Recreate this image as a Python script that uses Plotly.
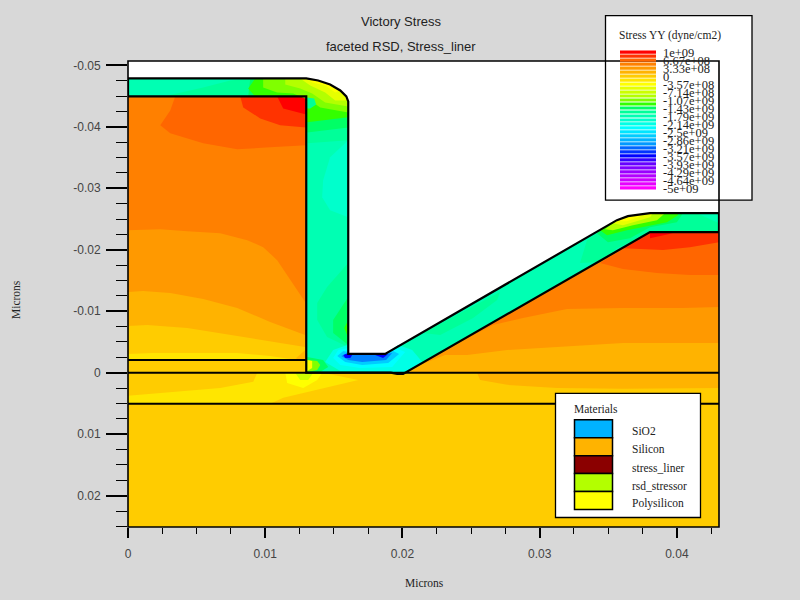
import plotly.graph_objects as go

# ---------- axes ----------
x_major = [0, 0.01, 0.02, 0.03, 0.04]
x_major_text = ["0", "0.01", "0.02", "0.03", "0.04"]
y_major = [-0.05, -0.04, -0.03, -0.02, -0.01, 0, 0.01, 0.02]
y_major_text = ["-0.05", "-0.04", "-0.03", "-0.02", "-0.01", "0", "0.01", "0.02"]
x_minor = [0.0025, 0.005, 0.0075, 0.0125, 0.015, 0.0175, 0.0225, 0.025, 0.0275,
           0.0325, 0.035, 0.0375, 0.0425]
y_minor = [-0.0475, -0.045, -0.0425, -0.0375, -0.035, -0.0325, -0.0275, -0.025, -0.0225,
           -0.0175, -0.015, -0.0125, -0.0075, -0.005, -0.0025, 0.0025, 0.005, 0.0075,
           0.0125, 0.015, 0.0175, 0.0225, 0.025]
x_limits = [0, 0.04307]
y_limits = [0.0251, -0.0507]

# ---------- legends ----------
stress_labels = ["1e+09", "6.67e+08", "3.33e+08", "0", "-3.57e+08", "-7.14e+08", "-1.07e+09",
                 "-1.43e+09", "-1.79e+09", "-2.14e+09", "-2.5e+09", "-2.86e+09", "-3.21e+09",
                 "-3.57e+09", "-3.93e+09", "-4.29e+09", "-4.64e+09", "-5e+09"]
stress_colors = ["#FF0000", "#FF3300", "#FF6600", "#FF8000", "#FF9900", "#FFB300", "#FFCC00",
                 "#FFE600", "#FFFF00", "#E6FF00", "#CCFF00", "#B3FF00", "#80FF00", "#33FF00",
                 "#00FF66", "#00FF99", "#00FFB3", "#00FFCC", "#00FFE6", "#00FFFF", "#00E6FF",
                 "#00CCFF", "#00B3FF", "#0099FF", "#0066FF", "#0033FF", "#0000FF", "#3300FF",
                 "#6600FF", "#8000FF", "#9900FF", "#B300FF", "#CC00FF", "#E600FF", "#FF00FF"]
material_names = ["SiO2", "Silicon", "stress_liner", "rsd_stressor", "Polysilicon"]
material_colors = ["#00B3FF", "#FFB300", "#8B0000", "#B3FF00", "#FFFF00"]

# ---------- device outline (microns) ----------
liner_curve = [(0.01299, -0.04786), (0.01386, -0.04753), (0.01473, -0.04688),
               (0.01547, -0.04591), (0.01591, -0.04494), (0.01605, -0.04412)]
liner_curve_back = liner_curve[::-1]
liner_outline = ([(0, -0.04786)] + liner_curve +
                 [(0.01605, -0.00305), (0.01874, -0.00305), (0.03563, -0.02481),
                  (0.03643, -0.02546), (0.03804, -0.02594), (0.04307, -0.02594),
                  (0.04307, -0.02286), (0.03804, -0.02286), (0.02005, 0.00019),
                  (0.01961, 0.00019), (0.01915, 0), (0.01299, 0), (0.01299, -0.04494),
                  (0, -0.04494), (0, -0.04786)])
line_surface = [(0, 0), (0.04307, 0)]
line_deep = [(0, 0.00506), (0.04307, 0.00506)]
line_left = [(0, -0.00208), (0.01299, -0.00208)]
ridge_edge = [(0.03804, -0.02594), (0.03643, -0.02546), (0.03563, -0.02481)]

# ---------- silicon stress bands (microns) ----------
substrate = [(0, 0), (0.04307, 0), (0.04307, 0.0252), (0, 0.0252)]
sub_lens = [(0.02544, 0), (0.02566, 0.00117), (0.02763, 0.00198), (0.03127, 0.00247),
            (0.03607, 0.00263), (0.04307, 0.00247), (0.04307, 0)]
sub_pale = [(0.00942, 0), (0.00913, 0.00149), (0.00672, 0.00247), (0.0018, 0.00344),
            (0, 0.00377), (0, 0.00506), (0.01036, 0.00506), (0.01131, 0.00409),
            (0.01678, 0.00117), (0.01422, 0)]
sub_yellow = [(0.01146, 0), (0.0116, 0.00166), (0.01277, 0.00247), (0.01379, 0.00117), (0.01415, 0)]
sub_lime = [(0.01218, 0), (0.01255, 0.00117), (0.01313, 0.00117), (0.0135, 0)]

left_base = [(0, -0.04494), (0.01299, -0.04494), (0.01299, 0), (0, 0)]
left_a = [(0, -0.02318), (0.00235, -0.02334), (0.00432, -0.02302), (0.00672, -0.0227),
          (0.00869, -0.02156), (0.00985, -0.02042), (0.01087, -0.01831), (0.01182, -0.01507),
          (0.01291, -0.01149), (0.01299, 0), (0, 0)]
left_b = [(0, -0.01312), (0.0011, -0.01328), (0.00308, -0.01295), (0.00548, -0.01198),
          (0.00796, -0.01052), (0.01036, -0.00825), (0.01291, -0.00614), (0.01299, 0), (0, 0)]
left_c = [(0, -0.0076), (0.0014, -0.00776), (0.00432, -0.00727), (0.00745, -0.00614),
          (0.01036, -0.005), (0.01291, -0.00419), (0.01299, 0), (0, 0)]
left_d = [(0, -0.00305), (0.0018, -0.00321), (0.00796, -0.00321), (0.01036, -0.00273),
          (0.01233, -0.00208), (0, -0.00208)]
left_corner = [(0.01226, -0.0024), (0.01291, -0.0037), (0.01299, -0.00208), (0.01233, -0.00208)]
top_a = [(0.00344, -0.04494), (0.00308, -0.04266), (0.00235, -0.04023), (0.00308, -0.03893),
         (0.00548, -0.03731), (0.00796, -0.03633), (0.01036, -0.03666), (0.01299, -0.03698),
         (0.01299, -0.04494)]
top_b = [(0.00818, -0.04494), (0.0084, -0.04315), (0.00964, -0.04136), (0.01109, -0.04023),
         (0.01299, -0.0399), (0.01299, -0.04494)]
top_c = [(0.01087, -0.04494), (0.01131, -0.04299), (0.01299, -0.04201), (0.01299, -0.04494)]

wedge_base = [(0.01983, 0), (0.03804, -0.02286), (0.04307, -0.02286), (0.04307, 0)]
wedge_a = [(0.01983, 0), (0.0266, -0.00776), (0.02879, -0.0089), (0.03199, -0.01036),
           (0.03607, -0.01052), (0.04044, -0.01052), (0.04307, -0.01068), (0.04307, 0)]
wedge_b = [(0.01983, 0), (0.02311, -0.00289), (0.02471, -0.00289), (0.02763, -0.0037),
           (0.03127, -0.00419), (0.03607, -0.00484), (0.04307, -0.00484), (0.04307, 0)]
wedge_c = [(0.0344, -0.01783), (0.03607, -0.01685), (0.03855, -0.0162), (0.04095, -0.01588),
           (0.04307, -0.01588), (0.04307, -0.02286), (0.03804, -0.02286)]
wedge_d = [(0.03607, -0.02026), (0.03899, -0.01994), (0.04095, -0.02042), (0.04307, -0.02123),
           (0.04307, -0.02286), (0.03804, -0.02286)]
wedge_e = [(0.03804, -0.02188), (0.03891, -0.02237), (0.03971, -0.0227), (0.03804, -0.02286)]

# ---------- liner stress bands (microns) ----------
top_liner_a = [(0.00257, -0.04494), (0.00548, -0.0464), (0.00745, -0.04753), (0.00905, -0.04786),
               (0.00876, -0.04494)]
corner_0 = [(0.00876, -0.04494), (0.00891, -0.04786)] + liner_curve + [(0.01605, -0.03779), (0.01306, -0.03731), (0.01299, -0.04494)]
corner_1 = [(0.00876, -0.04494), (0.00891, -0.04786)] + liner_curve + [(0.01605, -0.0399), (0.01306, -0.03909), (0.01299, -0.04494)]
corner_2 = [(0.00927, -0.04494), (0.00876, -0.04623), (0.00927, -0.04786)] + liner_curve + [(0.01605, -0.04153), (0.01306, -0.04072), (0.01299, -0.04494)]
corner_3 = [(0.00985, -0.04786), (0.00985, -0.0464), (0.01087, -0.04558), (0.01204, -0.04542),
            (0.01328, -0.04429), (0.01401, -0.04315), (0.01605, -0.04234)] + liner_curve_back
corner_4 = [(0.01146, -0.04786), (0.01146, -0.04688), (0.01255, -0.04623), (0.01342, -0.04542),
            (0.01437, -0.04396), (0.01605, -0.04331)] + liner_curve_back
corner_5 = [(0.01255, -0.04786), (0.01328, -0.04672), (0.01437, -0.04558), (0.0151, -0.04429),
            (0.01605, -0.04429)] + liner_curve_back
corner_6 = [(0.01299, -0.04786), (0.01342, -0.04721), (0.01437, -0.04672), (0.0151, -0.04558),
            (0.01547, -0.04591), (0.01473, -0.04688), (0.01386, -0.04753)]
corner_pocket = [(0.01306, -0.04477), (0.01357, -0.04461), (0.01371, -0.04364), (0.01328, -0.04299),
                 (0.01306, -0.04299)]
riser_upper = [(0.01605, -0.03779), (0.01473, -0.03503), (0.01422, -0.0313), (0.01415, -0.02854),
               (0.01473, -0.02643), (0.01605, -0.0253)]
riser_low_1 = [(0.01605, -0.01783), (0.01451, -0.01393), (0.01379, -0.01133), (0.01379, -0.00857),
               (0.01451, -0.00581), (0.01605, -0.00419)]
riser_low_2 = [(0.01605, -0.01231), (0.01495, -0.00857), (0.01495, -0.00646), (0.01605, -0.00451)]
riser_low_3 = [(0.01605, -0.00857), (0.01576, -0.00727), (0.01605, -0.00565)]
foot_1 = [(0.01306, -0.00256), (0.01422, -0.00208), (0.01459, -0.00094), (0.01401, -0.00013), (0.01306, 0)]
foot_2 = [(0.01306, -0.00208), (0.01379, -0.00192), (0.01401, -0.00127), (0.01379, -0.00045), (0.01306, -0.00013)]
foot_3 = [(0.01306, -0.00208), (0.01342, -0.00192), (0.01342, -0.00078), (0.01306, -0.00029)]
halo_0 = [(0.01437, -0.00175), (0.01495, -0.0037), (0.01598, -0.00451), (0.01605, -0.00305),
          (0.01874, -0.00305), (0.01969, -0.00451), (0.02071, -0.0037), (0.02151, -0.00159),
          (0.02005, -0.00013), (0.0191, -0.00013), (0.01547, -0.00029)]
halo_1 = [(0.01495, -0.0024), (0.01532, -0.0037), (0.01605, -0.00403), (0.01605, -0.00305),
          (0.01874, -0.00305), (0.01947, -0.00403), (0.0202, -0.00338), (0.01925, -0.00094),
          (0.01692, -0.00078), (0.01547, -0.00127)]
halo_2 = [(0.01525, -0.00273), (0.01569, -0.00354), (0.01605, -0.00338), (0.01605, -0.00305),
          (0.01874, -0.00305), (0.01932, -0.00354), (0.01976, -0.00305), (0.01896, -0.00159),
          (0.01707, -0.00127), (0.01583, -0.00175)]
halo_3 = [(0.01554, -0.00273), (0.01605, -0.00321), (0.01605, -0.00305), (0.01874, -0.00305),
          (0.01925, -0.00321), (0.01881, -0.00208), (0.01707, -0.00175), (0.01605, -0.00208)]
halo_4a = [(0.01569, -0.00289), (0.01605, -0.00321), (0.01634, -0.00289), (0.0162, -0.0024), (0.01583, -0.0024)]
halo_4b = [(0.01801, -0.00289), (0.01874, -0.00305), (0.01896, -0.00305), (0.01859, -0.0024)]
slope_a = [(0.02151, -0.00646), (0.02471, -0.01019), (0.02711, -0.01312), (0.0269, -0.01182),
           (0.02515, -0.0089), (0.02275, -0.00614)]
slope_b = [(0.03345, -0.02156), (0.03294, -0.01783), (0.0344, -0.01799), (0.03563, -0.02026),
           (0.03804, -0.02286), (0.04307, -0.02286), (0.04307, -0.02594), (0.03804, -0.02594),
           (0.03643, -0.02546), (0.03563, -0.02481)]
ridge_tail = [(0.04146, -0.02594), (0.04307, -0.02594), (0.04307, -0.02432)]
ridge_1 = [(0.0344, -0.02318), (0.03418, -0.0227), (0.03498, -0.02123), (0.03658, -0.02188),
           (0.03804, -0.02367), (0.04, -0.02448), (0.04044, -0.02594)] + ridge_edge
ridge_2 = [(0.0344, -0.02318), (0.03491, -0.02237), (0.03636, -0.02318), (0.03804, -0.02399),
           (0.03928, -0.02448), (0.04008, -0.02562), (0.04008, -0.02594)] + ridge_edge
ridge_3 = [(0.03476, -0.02334), (0.03534, -0.02318), (0.0368, -0.02399), (0.03855, -0.02481),
           (0.03913, -0.02594)] + ridge_edge
ridge_4 = [(0.03534, -0.02432), (0.03607, -0.02399), (0.03731, -0.02481), (0.03804, -0.0253),
           (0.03826, -0.02594)] + ridge_edge
ridge_5 = [(0.0357, -0.02464), (0.03636, -0.02464), (0.03716, -0.0253), (0.03767, -0.02578),
           (0.03643, -0.02546)]

paint_order = [
    (substrate, "#FFCC00"), (sub_lens, "#FFB300"), (sub_pale, "#FFE600"), (sub_yellow, "#FFFF00"),
    (sub_lime, "#CCFF00"),
    (left_base, "#FF8000"), (left_a, "#FF9900"), (left_b, "#FFB300"), (left_c, "#FFCC00"),
    (left_d, "#FFE600"), (left_corner, "#FFB300"), (top_a, "#FF6600"), (top_b, "#FF3300"), (top_c, "#FF0000"),
    (wedge_base, "#FF8000"), (wedge_a, "#FF9900"), (wedge_b, "#FFB300"), (wedge_c, "#FF6600"),
    (wedge_d, "#FF3300"), (wedge_e, "#FF0000"),
    (liner_outline, "#00FFB3"), (top_liner_a, "#00FF99"),
    (corner_0, "#00FF99"), (corner_1, "#00FF66"), (corner_2, "#33FF00"), (corner_3, "#80FF00"),
    (corner_4, "#B3FF00"), (corner_5, "#E6FF00"), (corner_6, "#FFFF00"), (corner_pocket, "#00FF99"),
    (riser_upper, "#00FFCC"), (riser_low_1, "#00FF99"), (riser_low_2, "#00FF66"), (riser_low_3, "#33FF00"),
    (slope_a, "#00FF99"), (slope_b, "#00FF99"), (ridge_tail, "#00FFB3"),
    (ridge_1, "#00FF66"), (ridge_2, "#33FF00"), (ridge_3, "#B3FF00"), (ridge_4, "#E6FF00"), (ridge_5, "#FFFF00"),
    (halo_0, "#00FFE6"), (halo_1, "#00FFFF"), (halo_2, "#00CCFF"), (halo_3, "#0080FF"),
    (halo_4a, "#0000FF"), (halo_4b, "#0000FF"),
    (foot_1, "#00FF66"), (foot_2, "#80FF00"), (foot_3, "#FFFF00"),
]

fig = go.Figure()
for points, colour in paint_order:
    fig.add_trace(go.Scatter(x=[p[0] for p in points], y=[p[1] for p in points], mode="lines",
                             fill="toself", fillcolor=colour, line=dict(width=0),
                             hoverinfo="skip", showlegend=False))
for points, width in [(line_surface, 2), (line_deep, 2), (line_left, 2), (liner_outline, 2.2)]:
    fig.add_trace(go.Scatter(x=[p[0] for p in points], y=[p[1] for p in points], mode="lines",
                             line=dict(color="black", width=width), hoverinfo="skip", showlegend=False))

# page pixels -> paper fractions for the overlay legends
L, R, T, B = 128, 719, 60.5, 527.5
def px(v): return (v - L) / (R - L)
def py(v): return (B - v) / (B - T)
def rect(x0, y0, x1, y1, fill, line_w=0, line_c="black"):
    return dict(type="rect", xref="paper", yref="paper", x0=px(x0), x1=px(x1), y0=py(y0), y1=py(y1),
                fillcolor=fill, line=dict(color=line_c, width=line_w), layer="above")
def text(x, y, s, size=12, family="Liberation Serif", anchor="left", colour="#222222", angle=0):
    return dict(xref="paper", yref="paper", x=px(x), y=py(y), text=s, showarrow=False,
                xanchor=anchor, yanchor="middle", font=dict(family=family, size=size, color=colour),
                textangle=angle, borderpad=0, borderwidth=0)

shapes = [rect(605.5, 15, 752, 200, "white", 1.3)]
shapes.append(rect(L, T, R, B, "rgba(0,0,0,0)", 1.6))
for i, c in enumerate(stress_colors):
    shapes.append(rect(620, 50 + i * 4.0, 656, 53.2 + i * 4.0, c))
shapes.append(rect(555.5, 393.5, 700.5, 518, "white", 1.3))
for i, c in enumerate(material_colors):
    shapes.append(rect(574.5, 420 + i * 18, 612.5, 438 + i * 18, c, 1.5))

annotations = [
    text(400.5, 21, "Victory Stress", 13, "Liberation Sans", "center"),
    text(400.5, 46, "faceted RSD, Stress_liner", 13, "Liberation Sans", "center"),
    text(424, 584, "Microns", 11.5, "Liberation Serif", "center"),
    text(16, 300, "Microns", 11.5, "Liberation Serif", "center", angle=-90),
    text(619, 35, "Stress YY (dyne/cm2)", 11.5),
    text(574, 409, "Materials", 11.5),
]
for i, s in enumerate(stress_labels):
    annotations.append(text(663, 52 + i * 8.06, s, 12.5))
for i, s in enumerate(material_names):
    annotations.append(text(632, 431.5 + i * 18.2, s, 11.5))

fig.update_layout(
    width=800, height=600, autosize=False,
    paper_bgcolor="#D8D8D8", plot_bgcolor="white",
    margin=dict(l=L, r=800 - R, t=T, b=600 - B, pad=0),
    shapes=shapes, annotations=annotations,
    xaxis=dict(range=x_limits, tickmode="array", tickvals=x_major, ticktext=x_major_text, ticks="outside",
               ticklen=10, tickwidth=2.2, tickcolor="black", showgrid=False, zeroline=False, showline=False,
               tickfont=dict(family="Liberation Sans", size=12, color="#444444"), ticklabelstandoff=6,
               minor=dict(tickmode="array", tickvals=x_minor, ticks="outside", ticklen=6, tickwidth=1.3,
                          tickcolor="black", showgrid=False)),
    yaxis=dict(range=y_limits, tickmode="array", tickvals=y_major, ticktext=y_major_text, ticks="outside",
               ticklen=21, tickwidth=2.2, tickcolor="black", showgrid=False, zeroline=False, showline=False,
               tickfont=dict(family="Liberation Sans", size=12, color="#444444"), ticklabelstandoff=3,
               minor=dict(tickmode="array", tickvals=y_minor, ticks="outside", ticklen=11, tickwidth=1.3,
                          tickcolor="black", showgrid=False)),
)
fig.write_html("out.html", config=dict(displayModeBar=False),
               post_script="document.body.style.margin='0';document.body.style.overflow='hidden';")
